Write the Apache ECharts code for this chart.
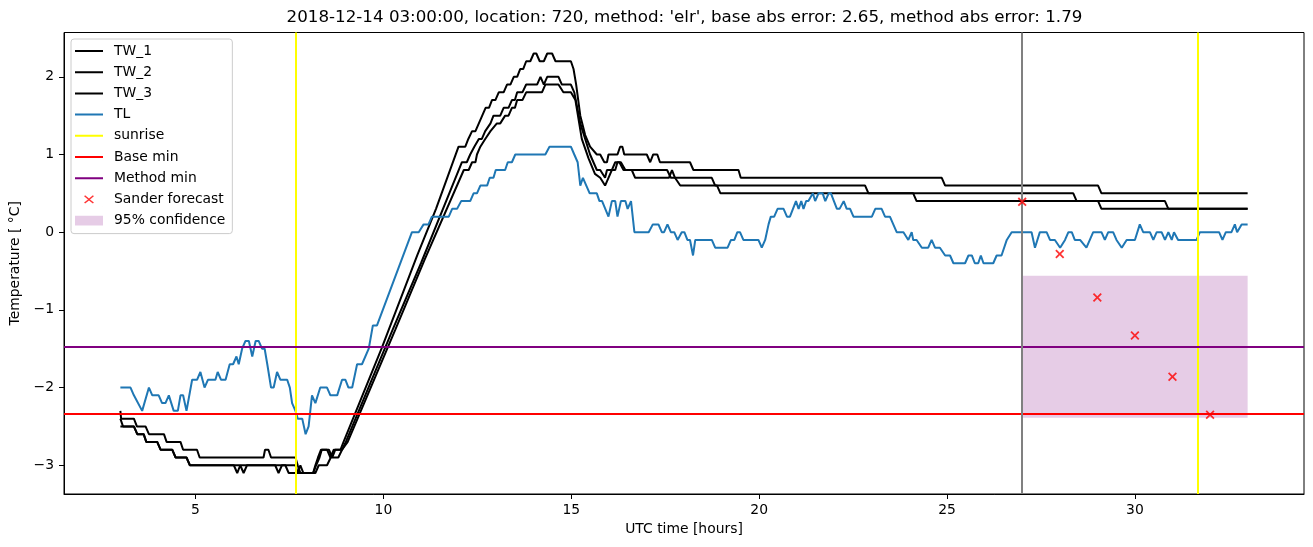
<!DOCTYPE html>
<html><head><meta charset="utf-8">
<script src="https://cdn.jsdelivr.net/npm/echarts@6/dist/echarts.min.js"></script>
<style>html,body{margin:0;padding:0;background:#fff}#c{width:1313px;height:547px}</style>
</head><body><div id="c"></div>
<script>
// ---------- data ----------
const titleText = "2018-12-14 03:00:00, location: 720, method: 'elr', base abs error: 2.65, method abs error: 1.79";
const xTicks = [5, 10, 15, 20, 25, 30];
const yTicks = [-3, -2, -1, 0, 1, 2];
const xRange = [1.5, 34.5];
const yRange = [-3.37, 2.57];

const TW_1 = [[3.0,-2.3],[3.02,-2.4],[3.36,-2.4],[3.44,-2.5],[3.67,-2.5],[3.76,-2.6],[4.16,-2.6],[4.23,-2.7],[4.60,-2.7],[4.67,-2.8],[5.04,-2.8],[5.11,-2.9],[6.81,-2.9],[6.85,-2.8],[6.94,-2.8],[7.01,-2.9],[7.66,-2.9],[7.72,-3.0],[7.79,-3.1],[8.13,-3.1],[8.21,-3.0],[8.30,-2.9],[8.36,-2.8],[8.50,-2.8],[8.59,-2.9],[8.68,-2.8],[8.86,-2.8],[8.94,-2.7],[9.95,-1.5],[10.9,-0.3],[11.4,0.3],[12.0,1.1],[12.18,1.1],[12.26,1.2],[12.36,1.3],[12.45,1.3],[12.54,1.4],[12.63,1.5],[12.72,1.6],[12.81,1.6],[12.89,1.7],[12.98,1.7],[13.07,1.8],[13.2,1.8],[13.29,1.9],[13.38,1.9],[13.47,2.0],[13.56,2.0],[13.64,2.1],[13.72,2.1],[13.8,2.2],[13.91,2.2],[14.0,2.3],[14.07,2.3],[14.16,2.2],[14.27,2.2],[14.36,2.3],[14.49,2.3],[14.58,2.2],[14.99,2.2],[15.06,2.1],[15.13,1.9],[15.24,1.5],[15.37,1.25],[15.5,1.1],[15.68,1.0],[15.77,1.0],[15.88,0.9],[15.95,0.9],[15.99,1.0],[16.23,1.0],[16.3,1.1],[16.36,1.1],[16.41,1.0],[17.01,1.0],[17.10,0.9],[17.18,1.0],[17.29,1.0],[17.36,0.9],[18.16,0.9],[18.25,0.8],[19.45,0.8],[19.51,0.7],[24.86,0.7],[24.95,0.6],[29.02,0.6],[29.11,0.5],[33.0,0.5]];

const TW_2 = [[3.0,-2.4],[3.07,-2.5],[3.36,-2.5],[3.45,-2.6],[3.62,-2.6],[3.69,-2.7],[3.98,-2.7],[4.07,-2.8],[4.38,-2.8],[4.47,-2.9],[4.76,-2.9],[4.85,-3.0],[6.02,-3.0],[6.11,-3.1],[6.19,-3.0],[6.28,-3.1],[6.37,-3.0],[7.66,-3.0],[7.72,-3.1],[7.79,-3.0],[7.87,-3.1],[8.13,-3.1],[8.19,-3.0],[8.26,-2.9],[8.34,-2.8],[8.55,-2.8],[8.64,-2.9],[8.72,-2.8],[8.9,-2.8],[9.0,-2.7],[10.25,-1.25],[11.0,-0.4],[12.09,0.9],[12.22,0.9],[12.31,1.0],[12.42,1.1],[12.54,1.2],[12.62,1.2],[12.71,1.3],[12.85,1.4],[12.93,1.5],[13.11,1.5],[13.2,1.6],[13.33,1.6],[13.42,1.7],[13.5,1.7],[13.56,1.8],[13.7,1.8],[13.8,1.9],[14.09,1.9],[14.18,2.0],[14.27,1.9],[14.36,2.0],[14.66,2.0],[14.75,1.9],[14.99,1.9],[15.08,1.8],[15.24,1.4],[15.37,1.2],[15.5,1.0],[15.68,0.8],[15.77,0.8],[15.9,0.7],[15.95,0.8],[16.17,0.8],[16.23,0.9],[16.32,0.9],[16.44,0.8],[17.55,0.8],[17.65,0.7],[18.74,0.7],[18.83,0.6],[22.82,0.6],[22.91,0.5],[28.36,0.5],[28.45,0.4],[30.80,0.4],[30.89,0.3],[33.0,0.3]];

const TW_3 = [[3.0,-2.5],[3.36,-2.5],[3.45,-2.6],[3.62,-2.6],[3.69,-2.7],[3.98,-2.7],[4.07,-2.8],[4.38,-2.8],[4.47,-2.9],[4.76,-2.9],[4.85,-3.0],[7.12,-3.0],[7.21,-3.1],[7.30,-3.0],[7.39,-3.0],[7.48,-3.1],[8.19,-3.1],[8.28,-3.0],[8.5,-3.0],[8.6,-2.9],[8.8,-2.9],[8.9,-2.8],[9.05,-2.7],[10.32,-1.25],[11.1,-0.35],[12.14,0.8],[12.27,0.8],[12.36,0.9],[12.45,0.9],[12.49,1.0],[12.58,1.1],[12.71,1.2],[12.85,1.3],[13.02,1.4],[13.11,1.4],[13.24,1.5],[13.33,1.5],[13.42,1.6],[13.5,1.6],[13.56,1.7],[13.7,1.7],[13.8,1.8],[14.22,1.8],[14.31,1.9],[14.66,1.9],[14.79,1.8],[14.99,1.8],[15.11,1.7],[15.28,1.2],[15.46,0.95],[15.63,0.75],[15.77,0.7],[15.9,0.6],[15.99,0.7],[16.17,0.9],[16.28,0.9],[16.39,0.8],[16.61,0.8],[16.70,0.7],[17.6,0.7],[17.68,0.8],[17.76,0.7],[17.9,0.6],[18.88,0.6],[18.97,0.5],[24.10,0.5],[24.19,0.4],[29.02,0.4],[29.11,0.3],[33.0,0.3]];

const TL = [[3.0,-2.0],[3.27,-2.0],[3.36,-2.1],[3.58,-2.3],[3.76,-2.0],[3.85,-2.1],[4.02,-2.1],[4.11,-2.2],[4.20,-2.2],[4.29,-2.1],[4.34,-2.1],[4.42,-2.3],[4.53,-2.3],[4.60,-2.1],[4.67,-2.1],[4.76,-2.3],[4.91,-1.9],[5.04,-1.9],[5.13,-1.8],[5.24,-2.0],[5.33,-1.9],[5.53,-1.9],[5.59,-1.8],[5.68,-1.9],[5.80,-1.9],[5.91,-1.7],[6.00,-1.7],[6.09,-1.6],[6.15,-1.7],[6.24,-1.5],[6.33,-1.4],[6.42,-1.4],[6.51,-1.6],[6.60,-1.4],[6.68,-1.4],[6.77,-1.5],[6.84,-1.5],[6.91,-1.7],[7.01,-2.0],[7.08,-2.0],[7.17,-1.8],[7.26,-1.9],[7.44,-1.9],[7.51,-2.0],[7.57,-2.2],[7.66,-2.3],[7.72,-2.4],[7.84,-2.4],[7.93,-2.6],[8.01,-2.5],[8.10,-2.1],[8.19,-2.2],[8.32,-2.0],[8.50,-2.0],[8.59,-2.1],[8.77,-2.1],[8.90,-1.9],[8.99,-1.9],[9.07,-2.0],[9.17,-2.0],[9.30,-1.7],[9.43,-1.7],[9.61,-1.5],[9.72,-1.2],[9.83,-1.2],[10.76,0.0],[10.94,0.0],[11.07,0.1],[11.20,0.1],[11.29,0.2],[11.74,0.2],[11.83,0.3],[11.96,0.3],[12.07,0.4],[12.31,0.4],[12.40,0.5],[12.49,0.5],[12.58,0.6],[12.76,0.6],[12.83,0.7],[12.93,0.7],[12.99,0.8],[13.24,0.8],[13.31,0.9],[13.42,0.9],[13.51,1.0],[14.31,1.0],[14.42,1.1],[14.99,1.1],[15.08,1.0],[15.17,0.9],[15.24,0.6],[15.31,0.7],[15.40,0.6],[15.49,0.5],[15.68,0.5],[15.75,0.4],[15.82,0.4],[15.99,0.2],[16.08,0.4],[16.17,0.4],[16.23,0.2],[16.32,0.4],[16.44,0.4],[16.50,0.3],[16.59,0.4],[16.68,0.0],[17.06,0.0],[17.17,0.1],[17.32,0.1],[17.41,0.0],[17.47,0.0],[17.56,0.1],[17.65,0.0],[17.74,0.0],[17.83,-0.1],[17.94,0.0],[18.01,0.0],[18.09,-0.1],[18.16,-0.1],[18.24,-0.3],[18.30,-0.1],[18.74,-0.1],[18.83,-0.2],[19.16,-0.2],[19.25,-0.1],[19.34,-0.1],[19.42,0.0],[19.49,0.0],[19.58,-0.1],[19.98,-0.1],[20.07,-0.2],[20.16,-0.1],[20.25,0.1],[20.31,0.2],[20.40,0.2],[20.49,0.3],[20.65,0.3],[20.74,0.2],[20.82,0.2],[20.98,0.4],[21.05,0.3],[21.12,0.4],[21.18,0.3],[21.25,0.4],[21.31,0.4],[21.43,0.5],[21.49,0.4],[21.58,0.5],[21.69,0.5],[21.76,0.4],[21.85,0.5],[21.91,0.5],[22.07,0.3],[22.14,0.3],[22.25,0.4],[22.33,0.3],[22.42,0.3],[22.51,0.2],[23.00,0.2],[23.09,0.3],[23.26,0.3],[23.35,0.2],[23.48,0.2],[23.66,0.0],[23.84,0.0],[23.97,-0.1],[24.06,0.0],[24.10,-0.1],[24.19,-0.1],[24.33,-0.2],[24.50,-0.2],[24.59,-0.1],[24.68,-0.2],[24.81,-0.2],[24.95,-0.3],[25.08,-0.3],[25.17,-0.4],[25.48,-0.4],[25.57,-0.3],[25.66,-0.3],[25.74,-0.4],[25.83,-0.4],[25.90,-0.3],[25.97,-0.4],[26.23,-0.4],[26.32,-0.3],[26.45,-0.3],[26.59,-0.1],[26.72,0.0],[27.25,0.0],[27.34,-0.2],[27.47,0.0],[27.65,0.0],[27.74,-0.1],[27.87,-0.1],[28.01,-0.2],[28.14,-0.1],[28.23,0.0],[28.32,0.0],[28.40,-0.1],[28.54,-0.1],[28.71,-0.2],[28.89,0.0],[29.11,0.0],[29.20,-0.1],[29.29,0.0],[29.42,0.0],[29.51,-0.1],[29.65,-0.2],[29.78,-0.1],[30.00,-0.1],[30.13,0.1],[30.22,0.0],[30.40,0.0],[30.49,-0.1],[30.58,0.0],[30.71,0.0],[30.80,-0.1],[30.89,0.0],[30.98,-0.1],[31.04,0.0],[31.15,-0.1],[31.64,-0.1],[31.73,0.0],[32.24,0.0],[32.33,-0.1],[32.42,0.0],[32.57,0.0],[32.66,0.1],[32.72,0.0],[32.84,0.1],[33.0,0.1]];

const sunrise = [7.68, 31.68];
const baseMin = -2.34;
const methodMin = -1.48;
const forecastStart = 27.0;
const sanderX = [27, 28, 29, 30, 31, 32];
const sanderY = [0.39, -0.28, -0.84, -1.33, -1.86, -2.35];
const confX = [27, 33];
const confY = [-2.39, -0.56];

// ---------- chart ----------
const FONT = '"DejaVu Sans", sans-serif';
const fmt = v => (v < 0 ? '\u2212' + Math.abs(v) : String(v));
const X_PATH = 'path://M1.4,0L5,3.6L8.6,0L10,1.4L6.4,5L10,8.6L8.6,10L5,6.4L1.4,10L0,8.6L3.6,5L0,1.4Z';
const CORNERS = 'M0,0L0.05,0L0,0.05Z M28,14L27.95,14L28,13.95Z ';
const X_LEGEND = 'path://' + CORNERS + 'M10.1,2.9L14,6.0L17.9,2.9L18.9,3.9L15.0,7L18.9,10.1L17.9,11.1L14,8.0L10.1,11.1L9.1,10.1L13.0,7L9.1,3.9Z';
const RECT_LEGEND = 'path://' + CORNERS + 'M0,2.2L28,2.2L28,11.8L0,11.8Z';
const LINE_LEGEND = 'path://' + CORNERS + 'M0,6L28,6L28,8L0,8Z';

function lineSeries(name, data, color) {
  return { name, type: 'line', data, symbol: 'none', showSymbol: false, color,
    itemStyle: { color }, lineStyle: { color, width: 2 }, z: 3, silent: true, animation: false };
}
function mark(name, color, items, z) {
  return { name, type: 'line', data: [], symbol: 'none', color, itemStyle: { color },
    lineStyle: { color, width: 2 }, z, silent: true,
    markLine: { symbol: 'none', silent: true, animation: false, label: { show: false },
      emphasis: { disabled: true }, lineStyle: { color, width: 2, type: 'solid' }, data: items } };
}

const chart = echarts.init(document.getElementById('c'), null, { renderer: 'canvas' });
chart.setOption({
  animation: false,
  backgroundColor: '#ffffff',
  textStyle: { fontFamily: FONT },
  graphic: [{ type: 'text', x: 684.5, y: 17.5, silent: true,
    style: { text: titleText, fill: '#000', font: '16.7px ' + FONT, align: 'center', verticalAlign: 'middle' } }],
  grid: { left: 64, right: 9, top: 32.5, bottom: 53, show: true, borderColor: '#000', borderWidth: 1, backgroundColor: 'transparent' },
  xAxis: { type: 'value', min: xRange[0], max: xRange[1],
    name: 'UTC time [hours]', nameLocation: 'middle', nameGap: 27,
    nameTextStyle: { fontSize: 13.9, color: '#000', fontFamily: FONT },
    axisLine: { show: true, onZero: false, lineStyle: { color: '#000', width: 1 } },
    axisTick: { show: true, inside: false, length: 5, lineStyle: { color: '#000', width: 1 }, customValues: xTicks },
    axisLabel: { color: '#000', fontSize: 13.9, fontFamily: FONT, margin: 9, customValues: xTicks, formatter: fmt },
    splitLine: { show: false } },
  yAxis: { type: 'value', min: yRange[0], max: yRange[1],
    name: 'Temperature [ °C]', nameLocation: 'middle', nameGap: 38, nameRotate: 90,
    nameTextStyle: { fontSize: 13.9, color: '#000', fontFamily: FONT },
    axisLine: { show: true, onZero: false, lineStyle: { color: '#000', width: 1 } },
    axisTick: { show: true, inside: false, length: 5, lineStyle: { color: '#000', width: 1 }, customValues: yTicks },
    axisLabel: { color: '#000', fontSize: 13.9, fontFamily: FONT, margin: 10, customValues: yTicks, formatter: fmt },
    splitLine: { show: false } },
  legend: {
    orient: 'vertical', left: 71, top: 39, itemWidth: 28, itemHeight: 14, itemGap: 7.2,
    padding: [5, 7, 6, 4], backgroundColor: 'rgba(255,255,255,0.8)', borderColor: '#cccccc',
    borderWidth: 1, borderRadius: 3, selectedMode: false,
    textStyle: { fontSize: 13.9, color: '#000', fontFamily: FONT, padding: [0, 0, 0, 6] },
    data: [
      { name: 'TW_1', icon: LINE_LEGEND }, { name: 'TW_2', icon: LINE_LEGEND }, { name: 'TW_3', icon: LINE_LEGEND },
      { name: 'TL', icon: LINE_LEGEND }, { name: 'sunrise', icon: LINE_LEGEND },
      { name: 'Base min', icon: LINE_LEGEND }, { name: 'Method min', icon: LINE_LEGEND },
      { name: 'Sander forecast', icon: X_LEGEND }, { name: '95% confidence', icon: RECT_LEGEND }]
  },
  series: [
    { name: '95% confidence', type: 'line', data: [], symbol: 'none', color: 'rgba(128,0,128,0.2)',
      itemStyle: { color: 'rgba(128,0,128,0.2)' }, z: 1, silent: true,
      markArea: { silent: true, animation: false, emphasis: { disabled: true },
        itemStyle: { color: 'rgba(128,0,128,0.2)' },
        data: [[{ xAxis: confX[0], yAxis: confY[0] }, { xAxis: confX[1], yAxis: confY[1] }]] } },
    lineSeries('TW_1', TW_1, '#000000'),
    lineSeries('TW_2', TW_2, '#000000'),
    lineSeries('TW_3', TW_3, '#000000'),
    lineSeries('TL', TL, '#1f77b4'),
    mark('sunrise', '#ffff00', sunrise.map(v => ({ xAxis: v })), 4),
    mark('Base min', '#ff0000', [{ yAxis: baseMin }], 4),
    mark('Method min', '#800080', [{ yAxis: methodMin }], 4),
    mark('forecast start', '#808080', [{ xAxis: forecastStart }], 4),
    { name: 'Sander forecast', type: 'scatter', data: sanderX.map((x, i) => [x, sanderY[i]]),
      symbol: X_PATH, symbolSize: 9, color: '#ff0000', itemStyle: { color: '#ff0000' }, z: 5, silent: true }
  ]
});
</script></body></html>
